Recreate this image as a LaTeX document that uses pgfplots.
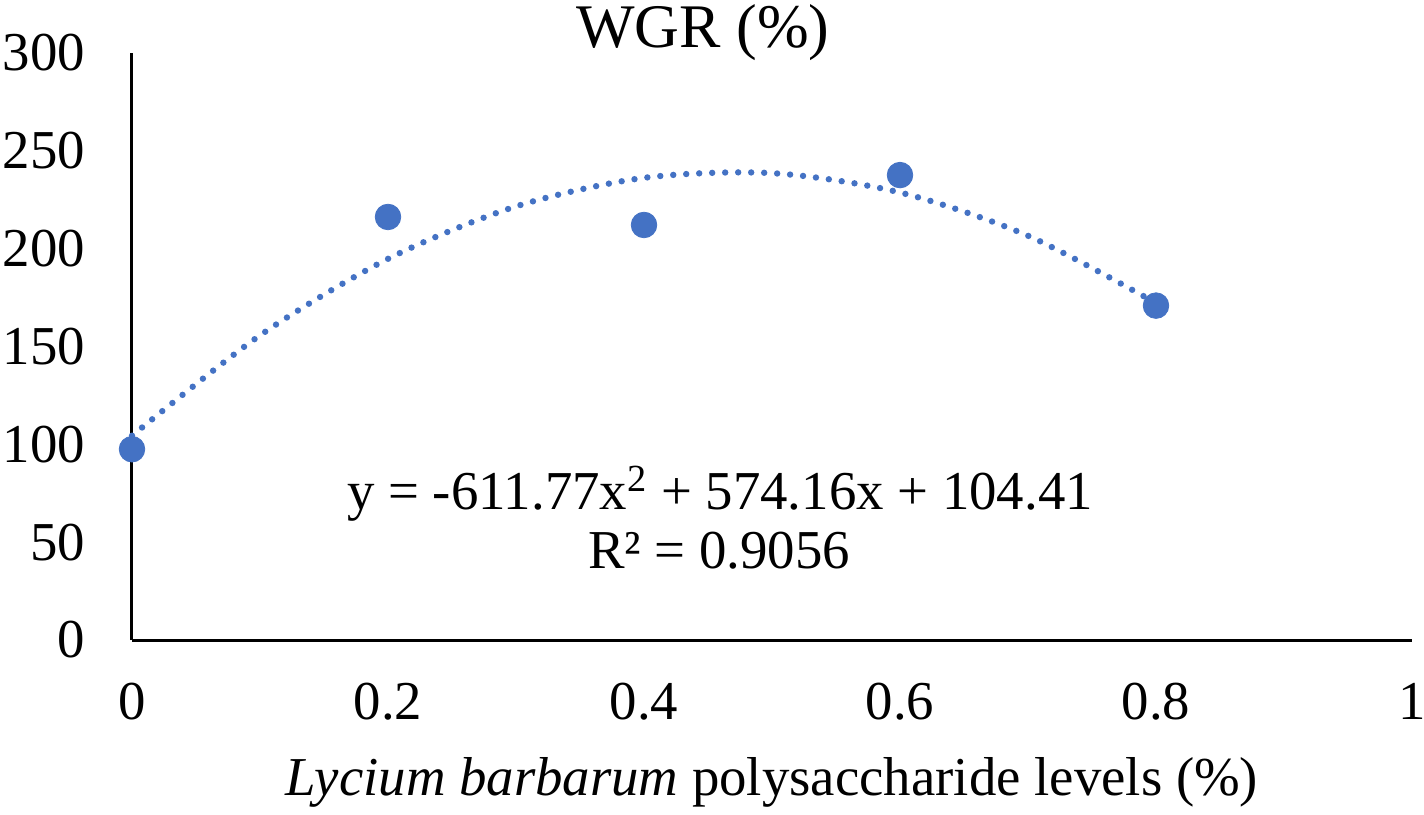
\documentclass[border=0pt]{standalone}
\usepackage{fontspec}
\setmainfont{Liberation Serif}
\usepackage{pgfplots}
\pgfplotsset{compat=1.18}
\definecolor{xlblue}{HTML}{4472C4}

\begin{document}
\fontsize{27.4}{33}\selectfont
\begin{tikzpicture}
% page = 1424x814 px at 2 px per pt
\path[use as bounding box] (-66pt,-87pt) rectangle (646pt,320pt);
\begin{axis}[
    at={(0pt,0pt)}, anchor=south west,
    scale only axis,
    width=640pt, height=293.5pt,
    xmin=0, xmax=1,
    ymin=0, ymax=300,
    axis lines=left,
    axis line style={-, line width=1.5pt, black},
    xtick={0,0.2,0.4,0.6,0.8,1},
    xticklabels={0,0.2,0.4,0.6,0.8,1},
    ytick={0,50,...,300},
    yticklabels={0,50,100,150,200,250,300},
    major tick length=0pt,
    /pgf/number format/assume math mode=true,
    ticklabel style={font=\fontsize{27.4}{33}\selectfont, inner sep=0pt},
    xticklabel style={yshift=-21.5pt},
    yticklabel style={xshift=-23.3pt},
    clip=false,
    ]
    % polynomial trendline
    \addplot[xlblue, line width=3.2pt, line cap=round,
             dash pattern=on 0pt off 6.5pt, smooth] coordinates {
        (0,104.4) (0.1,155.7) (0.2,194.8) (0.3,221.6) (0.4,236.2)
        (0.5,238.6) (0.6,228.7) (0.7,206.6) (0.8,172.2)
    };
    \addplot[only marks, mark=*, mark size=6.4pt, xlblue,
             mark options={fill=xlblue, draw=xlblue}] coordinates {
        (0,97.5) (0.2,216.2) (0.4,212.1) (0.6,237.6) (0.8,170.9)
    };
\end{axis}
\node[anchor=base, font=\fontsize{31}{37}\selectfont] at (285.5pt,296pt) {WGR (\%)};
\node[anchor=base] at (320pt,-77.5pt) {\textit{Lycium barbarum} polysaccharide levels (\%)};
\node[anchor=base] at (294pt,65pt) {y = -611.77x\textsuperscript{2} + 574.16x + 104.41};
\node[anchor=base] at (293.5pt,36pt) {R² = 0.9056};
\end{tikzpicture}
\end{document}
